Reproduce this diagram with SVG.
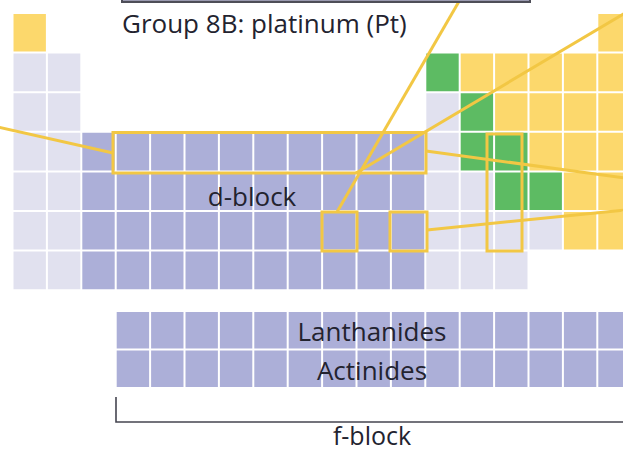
<svg xmlns="http://www.w3.org/2000/svg" width="623" height="452" viewBox="0 0 623 452">
<style>
.yel{fill:#fcd86c}
.grn{fill:#5dbb63}
.lt{fill:#e1e1ef}
.dk{fill:#acafd8}
.grid line{stroke:#ffffff;stroke-width:2}
.hl{fill:none;stroke:#f2c744;stroke-width:3}
.lbl{font-family:"Open Sans","Liberation Sans",sans-serif;font-size:26px;fill:#23232f}
</style>
<g id="s-block">
<rect class="yel" x="12.5" y="13" width="34.4" height="39.6"/>
<rect class="lt" x="12.5" y="52.6" width="68.8" height="237.6"/>
</g>
<g id="d-block">
<rect class="dk" x="81.3" y="131.8" width="344" height="158.4"/>
</g>
<g id="p-block">
<rect class="yel" x="597.3" y="13" width="34.4" height="39.6"/>
<rect class="yel" x="425.3" y="52.6" width="206.4" height="198"/>
<rect class="grn" x="425.3" y="52.6" width="34.4" height="39.6"/>
<rect class="lt" x="425.3" y="92.2" width="34.4" height="79.2"/>
<rect class="grn" x="459.7" y="92.2" width="34.4" height="39.6"/>
<rect class="grn" x="459.7" y="131.8" width="68.8" height="39.6"/>
<rect class="lt" x="425.3" y="171.4" width="68.8" height="39.6"/>
<rect class="grn" x="494.1" y="171.4" width="68.8" height="39.6"/>
<rect class="lt" x="425.3" y="211" width="137.6" height="39.6"/>
<rect class="lt" x="425.3" y="250.6" width="103.2" height="39.6"/>
</g>
<g id="f-block">
<rect class="dk" x="115.7" y="311" width="516" height="77"/>
</g>
<g class="grid">
<line x1="12.5" y1="10" x2="12.5" y2="395"/>
<line x1="46.9" y1="10" x2="46.9" y2="395"/>
<line x1="81.3" y1="10" x2="81.3" y2="395"/>
<line x1="115.7" y1="10" x2="115.7" y2="395"/>
<line x1="150.1" y1="10" x2="150.1" y2="395"/>
<line x1="184.5" y1="10" x2="184.5" y2="395"/>
<line x1="218.9" y1="10" x2="218.9" y2="395"/>
<line x1="253.3" y1="10" x2="253.3" y2="395"/>
<line x1="287.7" y1="10" x2="287.7" y2="395"/>
<line x1="322.1" y1="10" x2="322.1" y2="395"/>
<line x1="356.5" y1="10" x2="356.5" y2="395"/>
<line x1="390.9" y1="10" x2="390.9" y2="395"/>
<line x1="425.3" y1="10" x2="425.3" y2="395"/>
<line x1="459.7" y1="10" x2="459.7" y2="395"/>
<line x1="494.1" y1="10" x2="494.1" y2="395"/>
<line x1="528.5" y1="10" x2="528.5" y2="395"/>
<line x1="562.9" y1="10" x2="562.9" y2="395"/>
<line x1="597.3" y1="10" x2="597.3" y2="395"/>
<line x1="0" y1="13" x2="623" y2="13"/>
<line x1="0" y1="52.6" x2="623" y2="52.6"/>
<line x1="0" y1="92.2" x2="623" y2="92.2"/>
<line x1="0" y1="131.8" x2="623" y2="131.8"/>
<line x1="0" y1="171.4" x2="623" y2="171.4"/>
<line x1="0" y1="211" x2="623" y2="211"/>
<line x1="0" y1="250.6" x2="623" y2="250.6"/>
<line x1="0" y1="290.2" x2="623" y2="290.2"/>
<line x1="0" y1="311" x2="623" y2="311"/>
<line x1="0" y1="349.5" x2="623" y2="349.5"/>
<line x1="0" y1="388" x2="623" y2="388"/>
</g>
<g id="connectors">
<rect class="hl" x="113" y="132.5" width="313" height="40.5"/>
<line class="hl" x1="-2" y1="127" x2="113" y2="153"/>
<line class="hl" x1="356" y1="173" x2="625" y2="13"/>
<line class="hl" x1="461" y1="-2" x2="337" y2="212"/>
<rect class="hl" x="322" y="212" width="35" height="39"/>
<rect class="hl" x="390" y="212" width="37" height="39"/>
<line class="hl" x1="427" y1="230" x2="625" y2="210"/>
<line class="hl" x1="426" y1="151" x2="625" y2="178"/>
<rect class="hl" x="487" y="134" width="35" height="117"/>
</g>
<g id="topbox">
<rect x="122" y="-20" width="408" height="22" fill="#9a9ab0" stroke="#4e4e58" stroke-width="2"/>
</g>
<g id="bracket">
<polyline points="116,397 116,422 630,422" fill="none" stroke="#454550" stroke-width="1.6"/>
</g>
<g id="labels">
<text class="lbl" x="122" y="33">Group 8B: platinum (Pt)</text>
<text class="lbl" x="252" y="206" text-anchor="middle">d-block</text>
<text class="lbl" x="372" y="341" text-anchor="middle">Lanthanides</text>
<text class="lbl" x="372" y="380" text-anchor="middle">Actinides</text>
<text class="lbl" x="372" y="445" text-anchor="middle" style="font-size:25px">f-block</text>
</g>
</svg>
